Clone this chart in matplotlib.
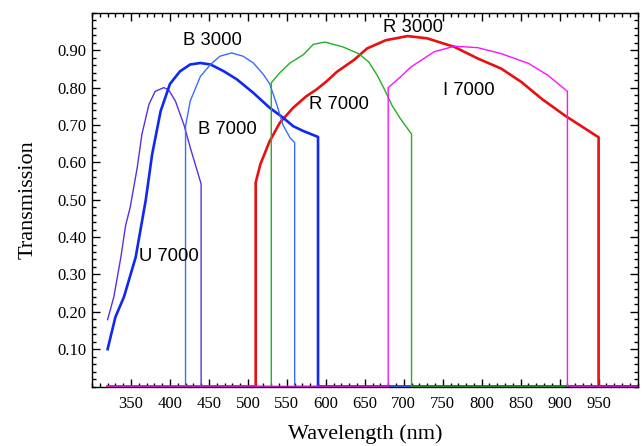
import matplotlib
matplotlib.use("Agg")
import matplotlib.pyplot as plt
from matplotlib.ticker import MultipleLocator

# ---- data (wavelength nm, transmission) ----
u7000_wl = [320, 328, 337, 343, 349, 358, 364, 373, 381, 392, 398, 407, 418, 426, 435, 440, 440, 1000]
u7000_tr = [0.179, 0.24, 0.346, 0.43, 0.48, 0.586, 0.675, 0.755, 0.79, 0.80, 0.795, 0.764, 0.70, 0.64, 0.577, 0.542, 0.0, 0.0]

b3000_wl = [320, 330, 341, 356, 369, 377, 388, 400, 413, 426, 439, 452, 469, 486, 507, 528, 545, 558, 571, 590, 590, 1000]
b3000_tr = [0.10, 0.186, 0.24, 0.346, 0.50, 0.62, 0.737, 0.81, 0.844, 0.862, 0.866, 0.862, 0.844, 0.822, 0.786, 0.746, 0.72, 0.697, 0.684, 0.668, 0.0, 0.0]

b7000_wl = [320, 420, 420, 426, 439, 452, 464, 479, 494, 507, 520, 528, 537, 545, 554, 560, 560, 1000]
b7000_tr = [0.0, 0.0, 0.697, 0.764, 0.83, 0.862, 0.884, 0.893, 0.884, 0.866, 0.835, 0.81, 0.755, 0.70, 0.666, 0.653, 0.0, 0.0]

r3000_wl = [320, 510, 510, 516, 528, 541, 558, 575, 588, 601, 614, 636, 653, 677, 705, 730, 765, 795, 825, 851, 877, 907, 933, 950, 950, 1000]
r3000_tr = [0.0, 0.0, 0.546, 0.595, 0.657, 0.706, 0.746, 0.777, 0.795, 0.817, 0.842, 0.874, 0.905, 0.927, 0.938, 0.932, 0.909, 0.878, 0.851, 0.815, 0.77, 0.725, 0.69, 0.667, 0.0, 0.0]

r7000_wl = [320, 530, 530, 541, 554, 571, 584, 599, 622, 642, 655, 666, 677, 685, 696, 705, 710, 710, 1000]
r7000_tr = [0.0, 0.0, 0.813, 0.84, 0.866, 0.888, 0.916, 0.922, 0.909, 0.891, 0.869, 0.833, 0.788, 0.752, 0.716, 0.69, 0.676, 0.0, 0.0]

i7000_wl = [320, 680, 680, 696, 709, 739, 765, 795, 825, 860, 885, 910, 910, 1000]
i7000_tr = [0.0, 0.0, 0.80, 0.829, 0.855, 0.896, 0.911, 0.907, 0.891, 0.865, 0.833, 0.79, 0.0, 0.0]

labels = ["B 3000", "B 7000", "U 7000", "R 7000", "R 3000", "I 7000"]
label_x = [455, 474, 398, 617, 712, 783]
label_y = [0.927, 0.687, 0.348, 0.755, 0.961, 0.793]

fig = plt.figure(figsize=(6.44, 4.46), dpi=100)
ax = fig.add_axes([0.1429, 0.1334, 0.990 - 0.1429, 0.971 - 0.1334])

ax.plot(r3000_wl, r3000_tr, color="#E81010", lw=1.9)
ax.plot(u7000_wl, u7000_tr, color="#5A2EE6", lw=1.0)
ax.plot(b3000_wl, b3000_tr, color="#1028F0", lw=1.9)
ax.plot(b7000_wl, b7000_tr, color="#3A6BFF", lw=1.0)
ax.plot(r7000_wl, r7000_tr, color="#22B022", lw=1.0)
ax.plot(i7000_wl, i7000_tr, color="#FF10FF", lw=1.0)

for t, x, y in zip(labels, label_x, label_y):
    ax.text(x, y, t, ha="center", va="center", fontsize=13.3, family="Liberation Sans")

ax.set_xlim(300, 1000)
ax.set_ylim(0, 1.0)
ax.set_xticks(list(range(350, 1000, 50)))
ax.set_yticks([0.1 * i for i in range(1, 10)])
ax.set_yticklabels(["%.2f" % (0.1 * i) for i in range(1, 10)])
ax.xaxis.set_minor_locator(MultipleLocator(10))
ax.yaxis.set_minor_locator(MultipleLocator(0.02))
ax.tick_params(which="both", direction="in", top=True, right=True, width=1.0, color="black")
ax.tick_params(which="major", length=6)
ax.tick_params(which="minor", length=3)
ax.tick_params(axis="x", which="major", pad=7)
ax.tick_params(axis="y", which="major", pad=4)
for lab in ax.get_xticklabels() + ax.get_yticklabels():
    lab.set_family("Liberation Serif")
    lab.set_fontsize(12)
for s in ax.spines.values():
    s.set_linewidth(1.0)

ax.set_xlabel("Wavelength (nm)", family="Liberation Serif", fontsize=16, labelpad=9)
ax.set_ylabel("Transmission", family="Liberation Serif", fontsize=16, labelpad=14)

fig.savefig("out.png", dpi=100)
